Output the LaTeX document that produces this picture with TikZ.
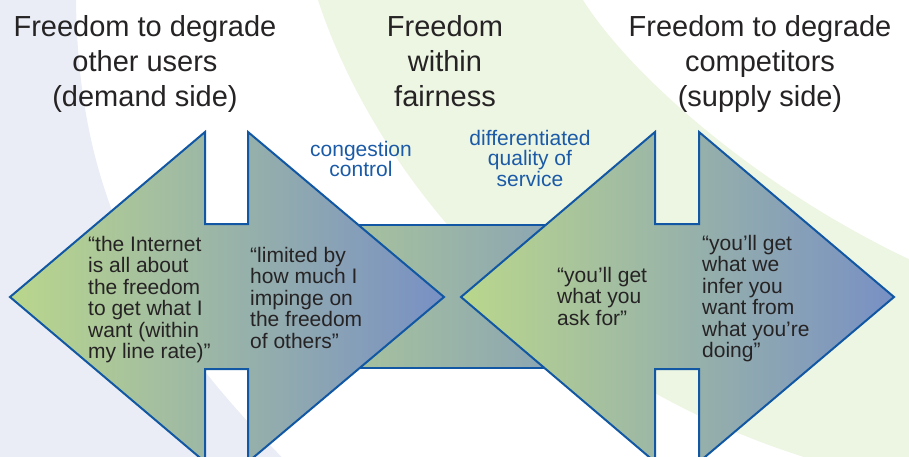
\documentclass[tikz,border=0pt]{standalone}
\usepackage{fontspec}
\setmainfont{Liberation Sans}
\definecolor{armline}{HTML}{1157A3}
\definecolor{armgreen}{HTML}{BAD78C}
\definecolor{armblue}{HTML}{7890C4}
\definecolor{bglilac}{HTML}{EAEDF6}
\definecolor{bggreen}{HTML}{EDF5E3}
\definecolor{inktext}{HTML}{262324}
\definecolor{inkblue}{HTML}{1A5AA6}

\begin{document}
\begin{tikzpicture}[x=1pt, y=-1pt,
    dblarrow/.style={draw=armline, line width=2pt, line join=miter, left color=armgreen, right color=armblue},
    heading/.style={anchor=north, align=center, inner sep=0pt, text=inktext, font=\fontsize{29}{35.3}\selectfont},
    remark/.style={anchor=north, align=center, inner sep=0pt, text=inkblue, font=\fontsize{21}{20.5}\selectfont},
    saying/.style={anchor=north west, align=left, inner sep=0pt, text=inktext, font=\fontsize{21}{21.5}\selectfont}]
    \useasboundingbox (0,0) rectangle (909,457);
    \clip (0,0) rectangle (909,457);

    % Background bands
    \fill[bglilac] (0,0) -- (76,0) .. controls (78,200) and (150,330) .. (300,475) -- (0,475) -- cycle;
    \fill[bggreen] (318,0) .. controls (360,130) and (500,370) .. (830,465) -- (915,465) -- (915,262)
        .. controls (760,190) and (630,75) .. (583,0) -- cycle;

    % Middle bar
    \draw[dblarrow] (205,225) rectangle (699,368);

    % Left double arrow
    \draw[dblarrow] (10,297) -- (205,132) -- (205,224) -- (248,224) -- (248,132) -- (444,297)
        -- (248,462) -- (248,369) -- (205,369) -- (205,462) -- cycle;
    % Right double arrow
    \draw[dblarrow] (461,297) -- (655,132) -- (655,224) -- (699,224) -- (699,132) -- (894,297)
        -- (699,462) -- (699,369) -- (655,369) -- (655,462) -- cycle;

    % Headings
    \node[heading] (demand) at (145,15) {Freedom to degrade\\other users\\(demand side)};
    \node[heading] (fair) at (445,15) {Freedom\\within\\fairness};
    \node[heading] (supply) at (760,15) {Freedom to degrade\\competitors\\(supply side)};

    % Blue remarks
    \node[remark] (cc) at (361,141) {congestion\\control};
    \node[remark] (qos) at (530,130) {differentiated\\quality of\\service};

    % Sayings in the arrows
    \node[saying] (internet) at (88,236) {“the Internet\\is all about\\the freedom\\to get what I\\want (within\\my line rate)”};
    \node[saying] (limited) at (250,247) {“limited by\\how much I\\impinge on\\the freedom\\of others”};
    \node[saying] (askfor) at (557,267) {“you’ll get\\what you\\ask for”};
    \node[saying] (infer) at (702,235) {“you’ll get\\what we\\infer you\\want from\\what you’re\\doing”};
\end{tikzpicture}
\end{document}
